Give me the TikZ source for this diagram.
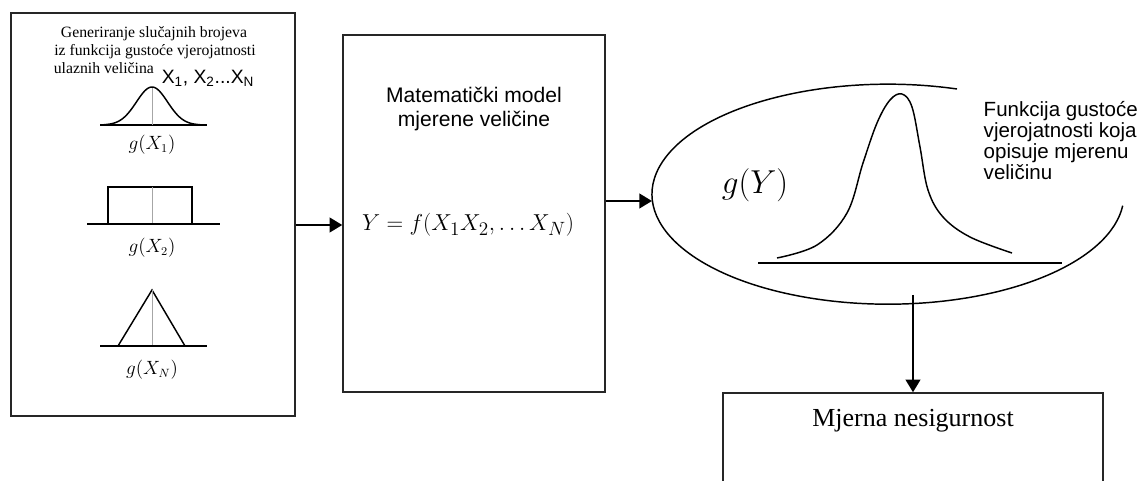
\documentclass[tikz,border=0pt]{standalone}
\usepackage{fontspec}
\setmainfont{Liberation Serif}
\setsansfont{Liberation Sans}
\usetikzlibrary{arrows.meta}

\begin{document}
\begin{tikzpicture}[x=0.75pt, y=-0.75pt, line width=1.1pt,
    box/.style={draw=black!85, line width=1.1pt, rectangle, inner sep=0pt},
    lbl/.style={inner sep=0pt},
    gentext/.style={inner sep=0pt, anchor=base, font=\fontsize{11.8pt}{13.8pt}\selectfont},
    arr/.style={line width=1.6pt, -{Triangle[length=9.5pt, width=11pt]}},
    axis/.style={line width=1pt},
    mid/.style={black!35, line width=0.5pt}]
    \useasboundingbox (0,0) rectangle (1140,481);
    \clip (0,0) rectangle (1140,481);
    \node[box, minimum width=213pt, minimum height=302.25pt] (gen) at (153,214.5) {};
    \node[box, minimum width=196.5pt, minimum height=267.75pt] (model) at (474,213.5) {};
    \node[box, minimum width=285pt, minimum height=105pt] (unc) at (913,463) {};
    \node[gentext] (gen1) at (154,38) {Generiranje slučajnih brojeva};
    \node[gentext] (gen2) at (155,56) {iz funkcija gustoće vjerojatnosti};
    \node[gentext] (gen3) at (154,74) {ulaznih veličina\enspace\raisebox{-7pt}{\sffamily\fontsize{14.5pt}{16pt}\selectfont X\textsubscript{1}, X\textsubscript{2}...X\textsubscript{N}}};
    \draw[axis] (100,125) -- (207,125);
    \draw[mid] (152,88) -- (152,125);
    \draw plot[domain=104:200, samples=60, smooth] (\x, {125-38*exp(-((\x-152)/22)*((\x-152)/22))});
    \node[lbl, font=\fontsize{13.5pt}{15pt}\selectfont] (gx1) at (152,145) {$g(X_1)$};
    \draw (108,187) rectangle (192,224);
    \draw[mid] (152,187) -- (152,224);
    \draw[axis] (87,224) -- (220,224);
    \node[lbl, font=\fontsize{13.5pt}{15pt}\selectfont] (gx2) at (152,247.5) {$g(X_2)$};
    \draw (118,346) -- (152,290) -- (185,346);
    \draw[mid] (152,290) -- (152,346);
    \draw[axis] (100,346) -- (207,346);
    \node[lbl, font=\fontsize{13.5pt}{15pt}\selectfont] (gxn) at (152,370) {$g(X_N)$};
    \node[lbl, align=center, font=\sffamily\fontsize{15.8pt}{18pt}\selectfont] (title) at (474,109) {Matematički model\\ mjerene veličine};
    \node[lbl, font=\fontsize{19pt}{22pt}\selectfont] (fml) at (468,225) {$Y=f(X_1X_2,\ldots X_N)$};
    \draw (957,89) arc[start angle=-73, end angle=-354, x radius=236, y radius=110];
    \draw[axis] (758,263) -- (1062,263);
    \draw plot[smooth, tension=0.6] coordinates {(777,258) (817,245) (847,213) (863,163) (877,123) (890,100) (902,94) (912,107) (920,147) (928,190) (943,217) (970,237) (1012,253)};
    \node[lbl, font=\fontsize{24pt}{28pt}\selectfont] (gy) at (755,185) {$g(Y)$};
    \node[lbl, align=left, anchor=west, font=\sffamily\fontsize{15.4pt}{15.75pt}\selectfont] (pdftxt) at (983,141) {Funkcija gustoće\\ vjerojatnosti koja\\ opisuje mjerenu\\ veličinu};
    \node[lbl, font=\fontsize{19.5pt}{22pt}\selectfont] (unctxt) at (913,421) {Mjerna nesigurnost};
    \coordinate (inrow) at (0,225);
    \coordinate (ellin) at (652,201);
    \coordinate (ellout) at (913,295);
    \draw[arr] (gen.east |- inrow) -- (model.west |- inrow);
    \draw[arr] (model.east |- ellin) -- (ellin);
    \draw[arr] (ellout) -- (unc.north);
\end{tikzpicture}
\end{document}
